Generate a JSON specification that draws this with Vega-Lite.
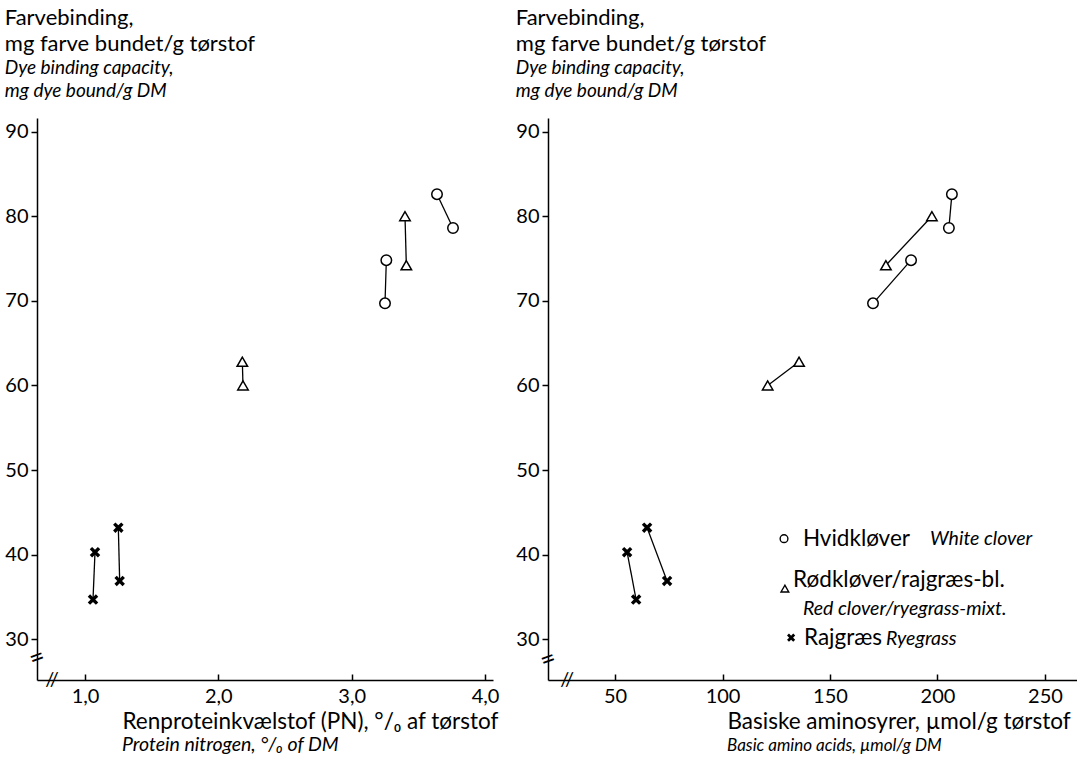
{
  "$schema": "https://vega.github.io/schema/vega-lite/v6.json",
  "background": "white",
  "padding": {"left": 4, "top": 7, "right": 0, "bottom": 0},
  "spacing": 16,
  "config": {
    "font": "Lato",
    "view": {"stroke": null},
    "axis": {
      "domainColor": "black", "domainWidth": 1.5, "tickColor": "black", "tickWidth": 1.5,
      "labelColor": "black", "labelFontSize": 20, "labelFont": "Lato", "grid": false,
      "titleColor": "black", "titleFontWeight": "normal", "titleFontSize": 22.5, "titleFont": "Lato"
    },
    "title": {
      "anchor": "start", "frame": "bounds", "fontSize": 22, "fontWeight": "normal", "lineHeight": 26,
      "color": "black", "subtitleColor": "black", "subtitleFontSize": 19, "subtitleFontStyle": "italic",
      "subtitleLineHeight": 23, "subtitlePadding": 0, "offset": 16, "font": "Lato", "subtitleFont": "Lato"
    }
  },
  "datasets": {
    "pts": [
      {"pair": "A", "species": "Hvidkløver", "pn": 3.64, "baa": 206.7, "dye": 82.6},
      {"pair": "A", "species": "Hvidkløver", "pn": 3.76, "baa": 205.3, "dye": 78.6},
      {"pair": "B", "species": "Hvidkløver", "pn": 3.26, "baa": 187.7, "dye": 74.8},
      {"pair": "B", "species": "Hvidkløver", "pn": 3.25, "baa": 170.0, "dye": 69.7},
      {"pair": "C", "species": "Rødkløver/rajgræs-bl.", "pn": 3.40, "baa": 197.4, "dye": 80.0},
      {"pair": "C", "species": "Rødkløver/rajgræs-bl.", "pn": 3.41, "baa": 176.0, "dye": 74.2},
      {"pair": "D", "species": "Rødkløver/rajgræs-bl.", "pn": 2.18, "baa": 135.6, "dye": 62.8},
      {"pair": "D", "species": "Rødkløver/rajgræs-bl.", "pn": 2.185, "baa": 121.0, "dye": 60.0},
      {"pair": "E", "species": "Rajgræs", "pn": 1.075, "baa": 55.6, "dye": 40.3},
      {"pair": "E", "species": "Rajgræs", "pn": 1.06, "baa": 59.8, "dye": 34.7},
      {"pair": "F", "species": "Rajgræs", "pn": 1.25, "baa": 64.9, "dye": 43.2},
      {"pair": "F", "species": "Rajgræs", "pn": 1.26, "baa": 74.2, "dye": 36.9}
    ]
  },
  "hconcat": [
    {
      "width": 456,
      "height": 562,
      "title": {"text": ["Farvebinding,", "mg farve bundet/g tørstof"], "subtitle": ["Dye binding capacity,", "mg dye bound/g DM"]},
      "layer": [
        {
          "data": {"name": "pts"},
          "mark": {"type": "line", "color": "black", "strokeWidth": 1.3},
          "encoding": {
            "x": {"field": "pn", "type": "quantitative", "scale": {"domain": [0.64, 4.06], "nice": false, "zero": false},
              "axis": {"values": [1, 2, 3, 4], "labelExpr": "replace(format(datum.value, '.1f'), '.', ',')", "tickSize": -6, "labelPadding": 12,
                "title": "Renproteinkvælstof (PN), °/₀ af tørstof", "titleX": 85, "titleY": 48, "titleAlign": "left", "titleBaseline": "alphabetic", "titleAnchor": "start"}},
            "y": {"field": "dye", "type": "quantitative", "scale": {"domain": [25.2, 91.6], "nice": false, "zero": false},
              "axis": {"values": [30, 40, 50, 60, 70, 80, 90], "tickSize": 6, "labelPadding": 3, "title": null}},
            "detail": {"field": "pair"}
          }
        },
        {
          "data": {"name": "pts"},
          "mark": {"type": "point", "filled": true, "stroke": "black", "strokeWidth": 1.5, "opacity": 1, "size": 110},
          "encoding": {
            "x": {"field": "pn", "type": "quantitative"},
            "y": {"field": "dye", "type": "quantitative"},
            "shape": {"field": "species", "type": "nominal", "legend": null,
              "scale": {"domain": ["Hvidkløver", "Rødkløver/rajgræs-bl.", "Rajgræs"], "range": ["circle", "triangle-up", "M0,-0.25L0.55,-0.8L0.8,-0.55L0.25,0L0.8,0.55L0.55,0.8L0,0.25L-0.55,0.8L-0.8,0.55L-0.25,0L-0.8,-0.55L-0.55,-0.8Z"]}},
            "fill": {"field": "species", "type": "nominal", "legend": null,
              "scale": {"domain": ["Hvidkløver", "Rødkløver/rajgræs-bl.", "Rajgræs"], "range": ["white", "white", "black"]}}
          }
        },
        {
          "data": {"values": [{"x": 0.753, "y": 25.2, "t": "//"}]},
          "mark": {"type": "text", "fontSize": 20, "color": "black", "align": "center", "baseline": "middle"},
          "encoding": {"x": {"field": "x", "type": "quantitative"}, "y": {"field": "y", "type": "quantitative"}, "text": {"field": "t"}}
        },
        {
          "data": {"values": [{"x": 0.64, "y": 27.8, "t": "="}]},
          "mark": {"type": "text", "fontSize": 26, "color": "black", "align": "center", "baseline": "middle", "angle": -20},
          "encoding": {"x": {"field": "x", "type": "quantitative"}, "y": {"field": "y", "type": "quantitative"}, "text": {"field": "t"}}
        },
        {
          "data": {"values": [{"x": 1.277, "y": 16.8, "t": "Protein nitrogen, °/₀ of DM"}]},
          "mark": {"type": "text", "fontSize": 19.5, "fontStyle": "italic", "color": "black", "align": "left", "baseline": "alphabetic"},
          "encoding": {"x": {"field": "x", "type": "quantitative"}, "y": {"field": "y", "type": "quantitative"}, "text": {"field": "t"}}
        }
      ]
    },
    {
      "width": 529,
      "height": 562,
      "title": {"text": ["Farvebinding,", "mg farve bundet/g tørstof"], "subtitle": ["Dye binding capacity,", "mg dye bound/g DM"]},
      "layer": [
        {
          "data": {"name": "pts"},
          "mark": {"type": "line", "color": "black", "strokeWidth": 1.3},
          "encoding": {
            "x": {"field": "baa", "type": "quantitative", "scale": {"domain": [18.8, 264.9], "nice": false, "zero": false},
              "axis": {"values": [50, 100, 150, 200, 250], "tickSize": -6, "labelPadding": 12,
                "title": "Basiske aminosyrer, µmol/g tørstof", "titleX": 179, "titleY": 48, "titleAlign": "left", "titleBaseline": "alphabetic", "titleAnchor": "start"}},
            "y": {"field": "dye", "type": "quantitative", "scale": {"domain": [25.2, 91.6], "nice": false, "zero": false},
              "axis": {"values": [30, 40, 50, 60, 70, 80, 90], "tickSize": 6, "labelPadding": 3, "title": null}},
            "detail": {"field": "pair"}
          }
        },
        {
          "data": {"name": "pts"},
          "mark": {"type": "point", "filled": true, "stroke": "black", "strokeWidth": 1.5, "opacity": 1, "size": 110},
          "encoding": {
            "x": {"field": "baa", "type": "quantitative"},
            "y": {"field": "dye", "type": "quantitative"},
            "shape": {"field": "species", "type": "nominal", "legend": null,
              "scale": {"domain": ["Hvidkløver", "Rødkløver/rajgræs-bl.", "Rajgræs"], "range": ["circle", "triangle-up", "M0,-0.25L0.55,-0.8L0.8,-0.55L0.25,0L0.8,0.55L0.55,0.8L0,0.25L-0.55,0.8L-0.8,0.55L-0.25,0L-0.8,-0.55L-0.55,-0.8Z"]}},
            "fill": {"field": "species", "type": "nominal", "legend": null,
              "scale": {"domain": ["Hvidkløver", "Rødkløver/rajgræs-bl.", "Rajgræs"], "range": ["white", "white", "black"]}}
          }
        },
        {
          "data": {"values": [
            {"species": "Hvidkløver", "x": 128.6, "y": 41.9},
            {"species": "Rødkløver/rajgræs-bl.", "x": 129.0, "y": 36.0},
            {"species": "Rajgræs", "x": 131.9, "y": 30.2}
          ]},
          "mark": {"type": "point", "filled": true, "stroke": "black", "strokeWidth": 1.4, "opacity": 1, "size": 60},
          "encoding": {
            "x": {"field": "x", "type": "quantitative"},
            "y": {"field": "y", "type": "quantitative"},
            "shape": {"field": "species", "type": "nominal", "legend": null},
            "fill": {"field": "species", "type": "nominal", "legend": null}
          }
        },
        {
          "data": {"values": [
            {"x": 137.4, "y": 41.9, "t": "Hvidkløver"},
            {"x": 132.8, "y": 37.0, "t": "Rødkløver/rajgræs-bl."},
            {"x": 137.9, "y": 30.2, "t": "Rajgræs"}
          ]},
          "mark": {"type": "text", "fontSize": 22.5, "color": "black", "align": "left", "baseline": "middle"},
          "encoding": {"x": {"field": "x", "type": "quantitative"}, "y": {"field": "y", "type": "quantitative"}, "text": {"field": "t"}}
        },
        {
          "data": {"values": [
            {"x": 196.5, "y": 41.9, "t": "White clover"},
            {"x": 137.4, "y": 33.6, "t": "Red clover/ryegrass-mixt."},
            {"x": 176, "y": 30.1, "t": "Ryegrass"}
          ]},
          "mark": {"type": "text", "fontSize": 19.5, "fontStyle": "italic", "color": "black", "align": "left", "baseline": "middle"},
          "encoding": {"x": {"field": "x", "type": "quantitative"}, "y": {"field": "y", "type": "quantitative"}, "text": {"field": "t"}}
        },
        {
          "data": {"values": [{"x": 27.7, "y": 25.2, "t": "//"}]},
          "mark": {"type": "text", "fontSize": 20, "color": "black", "align": "center", "baseline": "middle"},
          "encoding": {"x": {"field": "x", "type": "quantitative"}, "y": {"field": "y", "type": "quantitative"}, "text": {"field": "t"}}
        },
        {
          "data": {"values": [{"x": 18.8, "y": 27.6, "t": "="}]},
          "mark": {"type": "text", "fontSize": 26, "color": "black", "align": "center", "baseline": "middle", "angle": -20},
          "encoding": {"x": {"field": "x", "type": "quantitative"}, "y": {"field": "y", "type": "quantitative"}, "text": {"field": "t"}}
        },
        {
          "data": {"values": [{"x": 102.1, "y": 16.8, "t": "Basic amino acids, µmol/g DM"}]},
          "mark": {"type": "text", "fontSize": 17, "fontStyle": "italic", "color": "black", "align": "left", "baseline": "alphabetic"},
          "encoding": {"x": {"field": "x", "type": "quantitative"}, "y": {"field": "y", "type": "quantitative"}, "text": {"field": "t"}}
        }
      ]
    }
  ]
}
